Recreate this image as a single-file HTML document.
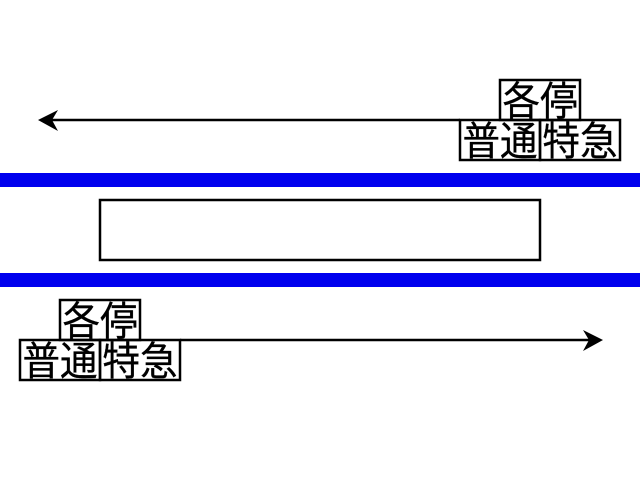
<!DOCTYPE html>
<html><head><meta charset="utf-8"><style>html,body{margin:0;padding:0;background:#fff}</style></head><body>
<svg width="640" height="480" viewBox="0 0 640 480" xmlns="http://www.w3.org/2000/svg" font-family="'Liberation Sans','Noto Sans CJK JP',sans-serif" font-size="40">
<rect x="0" y="173" width="640" height="14" fill="#0000ee"/>
<rect x="0" y="273" width="640" height="14" fill="#0000ee"/>
<rect x="100" y="200" width="440" height="60" fill="none" stroke="#000" stroke-width="2.5"/>
<g stroke="#000" stroke-width="2.5" fill="none">
<line x1="50" y1="120" x2="460" y2="120"/>
<line x1="180" y1="340" x2="592" y2="340"/>
<rect x="500" y="80" width="80" height="40"/>
<rect x="460" y="120" width="80" height="40"/>
<rect x="540" y="120" width="80" height="40"/>
<rect x="60" y="300" width="80" height="40"/>
<rect x="20" y="340" width="80" height="40"/>
<rect x="100" y="340" width="80" height="40"/>
</g>
<polygon points="38,120 58,110 52,120 58,131" fill="#000"/>
<polygon points="603,340 583,330 589,340 583,351" fill="#000"/>
<g fill="#000" stroke="#000" stroke-width="0.3" text-anchor="middle">
<text x="540" y="115" textLength="75" lengthAdjust="spacingAndGlyphs">各停</text>
<text x="500" y="155" textLength="75" lengthAdjust="spacingAndGlyphs">普通</text>
<text x="580" y="155" textLength="75" lengthAdjust="spacingAndGlyphs">特急</text>
<text x="100" y="335" textLength="75" lengthAdjust="spacingAndGlyphs">各停</text>
<text x="60" y="375" textLength="75" lengthAdjust="spacingAndGlyphs">普通</text>
<text x="140" y="375" textLength="75" lengthAdjust="spacingAndGlyphs">特急</text>
</g>
</svg>
</body></html>
